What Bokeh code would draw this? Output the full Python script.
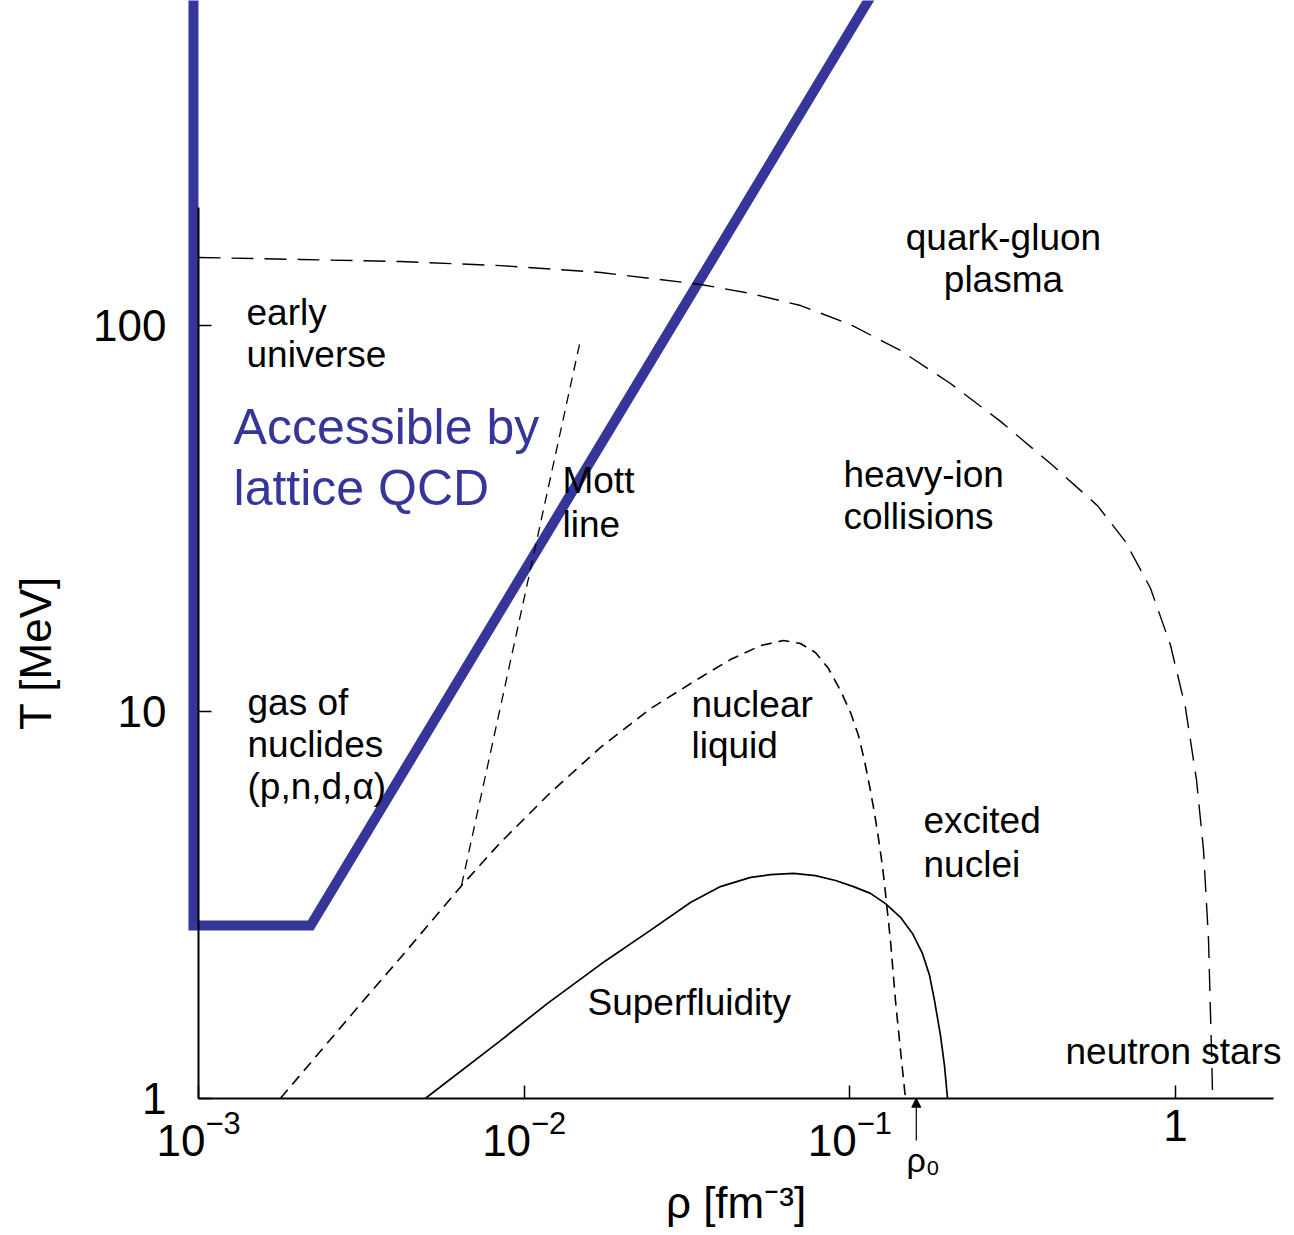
from bokeh.plotting import figure
from bokeh.models import FixedTicker, Arrow, NormalHead, ColumnDataSource
from bokeh.embed import file_html
from bokeh.resources import INLINE
from bokeh.core.properties import value

# Phase boundaries of nuclear matter: density rho [fm^-3] vs temperature T [MeV]
qgp_rho = [0.001, 0.00206, 0.00417, 0.00846, 0.0172, 0.0348, 0.0496, 0.0706, 0.1005,
           0.1431, 0.2037, 0.2902, 0.4132, 0.576, 0.702, 0.838, 0.965, 1.073,
           1.160, 1.219, 1.263, 1.290, 1.299]
qgp_T = [150.1, 148.3, 146.5, 143.0, 137.2, 127.8, 121.1, 112.7, 100.6,
         86.2, 70.8, 56.5, 43.95, 34.2, 27.6, 20.9, 14.9, 10.26,
         6.68, 4.40, 2.58, 1.329, 1.047]

lg_rho = [0.001786, 0.003211, 0.004172, 0.006421, 0.008456, 0.01204, 0.01716, 0.02443,
          0.03478, 0.04300, 0.0532, 0.06255, 0.07056, 0.0784, 0.0860, 0.09362, 0.1005,
          0.1063, 0.1109, 0.1149, 0.1190, 0.1225, 0.1260, 0.1287, 0.1333, 0.1381,
          0.1431, 0.1482]
lg_T = [1.0, 1.79, 2.31, 3.55, 4.59, 6.18, 8.09, 10.2,
        12.28, 13.66, 14.85, 15.30, 15.03, 14.25, 12.95, 11.36, 9.96,
        8.69, 7.48, 6.45, 5.49, 4.70, 3.98, 3.39, 2.56, 1.79,
        1.329, 1.0]

mott_rho = [0.00642, 0.0149]
mott_T = [3.55, 92.0]

sf_rho = [0.00498, 0.00846, 0.0118, 0.0178, 0.0244, 0.03241, 0.04006, 0.0496, 0.0571,
          0.0672, 0.0784, 0.0904, 0.1026, 0.1157, 0.1287, 0.1431, 0.1557, 0.1671,
          0.1757, 0.1820, 0.1899, 0.1953, 0.1995]
sf_T = [1.0, 1.41, 1.76, 2.27, 2.72, 3.21, 3.53, 3.73, 3.79,
        3.82, 3.77, 3.66, 3.53, 3.39, 3.19, 2.94, 2.67, 2.37,
        2.08, 1.79, 1.453, 1.215, 1.0]

# region reachable by lattice QCD
lat_rho = [0.000965, 0.000965, 0.00221, 0.148]
lat_T = [1000, 2.80, 2.80, 1000]

rho0 = 0.16

x_ticks = [0.001, 0.01, 0.1, 1]
y_ticks = [1, 10, 100]

region_text = ["early", "universe", "quark-gluon", "plasma", "heavy-ion", "collisions",
               "Mott", "line", "gas of", "nuclides", "(p,n,d,\u03b1)", "nuclear", "liquid",
               "excited", "nuclei", "Superfluidity", "neutron stars"]
region_rho = [0.001404, 0.001404, 0.2963, 0.2963, 0.0956, 0.0956, 0.01311, 0.01311,
              0.001414, 0.001414, 0.001414, 0.03264, 0.03264, 0.1684, 0.1684, 0.01565, 0.4595]
region_T = [108.2, 84.2, 169.1, 131.6, 41.2, 32.1, 39.8, 30.6, 10.58, 8.23, 6.41,
            10.45, 8.19, 5.23, 4.03, 1.769, 1.320]
region_align = ["left", "left", "center", "center"] + ["left"] * 13

lat_text = ["Accessible by", "lattice QCD"]
lat_text_rho = [0.001281, 0.001281]
lat_text_T = [54.8, 37.9]

BLUE = "#36369a"
FONT = "Liberation Sans"

p = figure(width=1294, height=1235, x_axis_type="log", y_axis_type="log",
           x_range=(2.466e-4, 2.32), y_range=(0.4412, 694.3),
           output_backend="svg", toolbar_location=None, title=None, min_border=0)
p.outline_line_color = None
p.grid.visible = False
p.background_fill_color = "white"
p.border_fill_color = "white"

# lattice QCD boundary
p.line(lat_rho, lat_T, line_color=BLUE, line_width=10, line_join="miter")

# phase boundaries
p.line(qgp_rho, qgp_T, line_color="black", line_width=1.4, line_dash="22 11")
p.line(lg_rho, lg_T, line_color="black", line_width=1.6, line_dash="11 7")
p.line(mott_rho, mott_T, line_color="black", line_width=1.3, line_dash="10 7")
p.line(sf_rho, sf_T, line_color="black", line_width=1.7)

# saturation density marker
p.add_layout(Arrow(end=NormalHead(size=9, fill_color="black", line_color="black"),
                   x_start=rho0, y_start=0.777, x_end=rho0, y_end=1.0,
                   line_color="black", line_width=1.2))
p.text(x=[0.1493], y=[0.694], text=["\u03c1\u2080"], text_font=value(FONT),
       text_font_size=value("34px"), text_baseline="alphabetic", text_color="black")

region_src = ColumnDataSource(dict(x=region_rho, y=region_T, text=region_text, align=region_align))
p.text(x="x", y="y", text="text", source=region_src, text_align="align",
       text_baseline="alphabetic", text_font=value(FONT), text_font_size=value("37px"),
       text_color="black")

p.text(x=lat_text_rho, y=lat_text_T, text=lat_text, text_baseline="alphabetic",
       text_font=value(FONT), text_font_size=value("50px"), text_color=BLUE)

# axes sit at rho = 1e-3 and T = 1
xa = p.xaxis[0]
xa.fixed_location = 1
xa.bounds = (0.001, 2.0)
xa.ticker = FixedTicker(ticks=x_ticks, minor_ticks=[])
xa.major_label_overrides = {1: "1"}
xa.axis_label = "\u03c1 [fm\u207b\u00b3]"

ya = p.yaxis[0]
ya.fixed_location = 0.001
ya.bounds = (1, 202)
ya.ticker = FixedTicker(ticks=y_ticks, minor_ticks=[])
ya.major_label_overrides = {1: "1", 10: "10", 100: "100"}
ya.axis_label = "T [MeV]"

for ax in (xa, ya):
    ax.axis_line_width = 2
    ax.axis_line_color = "black"
    ax.major_tick_in = 13
    ax.major_tick_out = 0
    ax.major_tick_line_width = 1.5
    ax.minor_tick_line_color = None
    ax.major_label_text_font = FONT
    ax.major_label_text_font_size = "44px"
    ax.major_label_text_color = "black"
    ax.axis_label_text_font = FONT
    ax.axis_label_text_font_size = "44px"
    ax.axis_label_text_font_style = "normal"
    ax.axis_label_text_color = "black"

xa.major_label_standoff = 12
xa.axis_label_standoff = 18
ya.major_label_standoff = 32
ya.axis_label_standoff = 30

open("out.html", "w").write(file_html(p, INLINE))
